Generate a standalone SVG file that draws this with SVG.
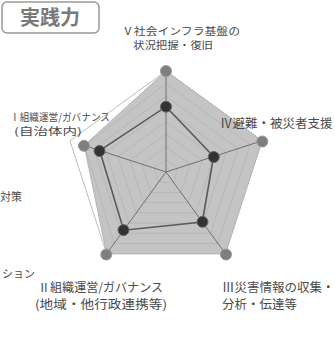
<svg xmlns="http://www.w3.org/2000/svg" width="335" height="338" viewBox="0 0 335 338">
<style>
text{font-family:"Noto Sans CJK JP","Noto Sans",sans-serif;fill:#4a4a4a;font-size:12px}
.grid{fill:none;stroke:#b4b4b4;stroke-width:0.8}
.outer{fill:none;stroke:#bdbdbd;stroke-width:1}
.axis{stroke:#707070;stroke-width:1}
.gdot{fill:#7e7e7e;stroke:#9a9a9a;stroke-width:1}
.ddot{fill:#333;stroke:#666;stroke-width:1}
</style>
<rect width="335" height="338" fill="#fff"/>
<g id="title">
<rect x="2" y="2" width="97" height="31" rx="5" fill="#fff" stroke="#999" stroke-width="1.5"/>
<text x="50" y="25" text-anchor="middle" style="font-size:20px;font-weight:bold;fill:#7a7a7a">実践力</text>
</g>
<g id="chart-grid">
<polygon class="outer" points="166,71 262.06,140.79 225.37,253.71 106.63,253.71 69.94,140.79"/>
<polygon id="max-series" points="166,71 262.06,140.79 225.37,253.71 106.63,253.71 84.2,145.4" fill="#c4c4c4" stroke="#b5b5b5" stroke-width="1"/>
<polygon class="grid" points="166,159.38 178.01,168.10 173.42,182.21 158.58,182.21 153.99,168.10"/>
<polygon class="grid" points="166,146.75 190.01,164.20 180.84,192.43 151.16,192.43 141.99,164.20"/>
<polygon class="grid" points="166,134.13 202.02,160.30 188.26,202.64 143.74,202.64 129.98,160.30"/>
<polygon class="grid" points="166,121.5 214.03,156.39 195.68,212.86 136.32,212.86 117.97,156.39"/>
<polygon class="grid" points="166,108.88 226.04,152.49 203.10,223.07 128.90,223.07 105.96,152.49"/>
<polygon class="grid" points="166,96.25 238.04,148.59 210.53,233.28 121.47,233.28 93.96,148.59"/>
<polygon class="grid" points="166,83.63 250.05,144.69 217.95,243.50 114.05,243.50 84.5,145.5"/>
</g>
<g id="connectors">
<line class="axis" x1="166" y1="172" x2="166" y2="71"/>
<line class="axis" x1="166" y1="172" x2="262.06" y2="140.79"/>
<line class="axis" x1="166" y1="172" x2="225.37" y2="253.71"/>
<line class="axis" x1="166" y1="172" x2="106.63" y2="253.71"/>
<line class="axis" x1="166" y1="172" x2="84.2" y2="145.4"/>
<polygon points="166,106.7 213.6,156.5 202.3,222 123.7,230.2 99.7,150.5" fill="none" stroke="#5a5a5a" stroke-width="1.6"/>
</g>
<g id="max-dots">
<circle class="gdot" cx="166" cy="71" r="5.5"/>
<circle class="gdot" cx="262.3" cy="141.5" r="5.5"/>
<circle class="gdot" cx="226" cy="254.5" r="5.5"/>
<circle class="gdot" cx="106.3" cy="254.5" r="5.5"/>
<circle class="gdot" cx="84" cy="145.8" r="5.5"/>
</g>
<g id="value-dots">
<circle class="ddot" cx="166" cy="106.7" r="5.5"/>
<circle class="ddot" cx="213.8" cy="157" r="5.5"/>
<circle class="ddot" cx="202.5" cy="221.8" r="5.5"/>
<circle class="ddot" cx="123.5" cy="230.1" r="5.5"/>
<circle class="ddot" cx="99.5" cy="151" r="5.5"/>
</g>
<g id="label-V">
<text style="font-size:10px"><tspan x="122" y="34.5" textLength="118" lengthAdjust="spacingAndGlyphs">Ⅴ社会インフラ基盤の</tspan><tspan x="133" y="49" textLength="80" lengthAdjust="spacingAndGlyphs">状況把握・復旧</tspan></text>
</g>
<g id="label-I">
<text style="font-size:10px"><tspan x="10" y="120.5" textLength="100" lengthAdjust="spacingAndGlyphs">Ⅰ組織運営/ガバナンス</tspan><tspan x="14" y="135" textLength="68" lengthAdjust="spacingAndGlyphs">(自治体内)</tspan></text>
</g>
<g id="label-IV">
<text x="220" y="127.5" style="font-size:12.5px">Ⅳ避難・被災者支援</text>
</g>
<g id="label-II">
<text><tspan x="38" y="291.5" textLength="125" lengthAdjust="spacingAndGlyphs">Ⅱ組織運営/ガバナンス</tspan><tspan x="35" y="308.5" textLength="132" lengthAdjust="spacingAndGlyphs">(地域・他行政連携等)</tspan></text>
</g>
<g id="label-III">
<text><tspan x="222" y="291.5" style="font-size:12.5px">Ⅲ災害情報の収集・</tspan><tspan x="222" y="308.5" textLength="75" lengthAdjust="spacingAndGlyphs">分析・伝達等</tspan></text>
</g>
<g id="cut-labels">
<text x="0" y="201" style="font-size:11px">対策</text>
<text x="2" y="278" style="font-size:11px">ション</text>
</g>
</svg>
